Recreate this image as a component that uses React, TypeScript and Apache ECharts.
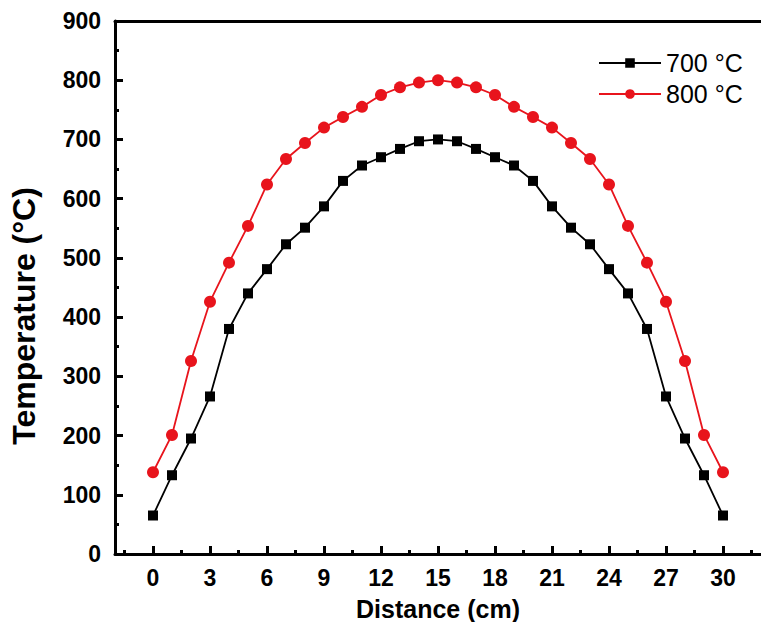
import React, { useEffect, useRef } from "react";
import * as echarts from "echarts";

const distance = [0, 1, 2, 3, 4, 5, 6, 7, 8, 9, 10, 11, 12, 13, 14, 15, 16, 17, 18, 19, 20, 21, 22, 23, 24, 25, 26, 27, 28, 29, 30];
const temp700 = [65, 133, 195, 266, 380, 440, 481, 523, 551, 587, 630, 656, 670, 684, 697, 700, 697, 684, 670, 656, 630, 587, 551, 523, 481, 440, 380, 266, 195, 133, 65];
const temp800 = [138, 201, 326, 426, 492, 554, 624, 667, 694, 720, 738, 755, 775, 788, 796, 800, 796, 788, 775, 755, 738, 720, 694, 667, 624, 554, 492, 426, 326, 201, 138];
const seriesNames = ["700 °C", "800 °C"];
const xMajorTicks = [0, 3, 6, 9, 12, 15, 18, 21, 24, 27, 30];
const xMinorTicks = [-1.5, 1.5, 4.5, 7.5, 10.5, 13.5, 16.5, 19.5, 22.5, 25.5, 28.5, 31.5];

const FONT = "Liberation Sans, Arial, sans-serif";

export default function App() {
  const ref = useRef<HTMLDivElement>(null);
  useEffect(() => {
    if (!ref.current) return;
    const chart = echarts.init(ref.current, undefined, { renderer: "svg" });
    const pair = (ys: number[]) => distance.map((x, i) => [x, ys[i]]);
    chart.setOption({
      animation: false,
      backgroundColor: "#ffffff",
      grid: { left: 115, top: 21, right: 0, bottom: 68, containLabel: false, outerBoundsMode: "none" },
      legend: {
        orient: "vertical",
        left: 593,
        top: 44,
        itemWidth: 62,
        itemHeight: 12,
        itemGap: 3,
        textStyle: { fontFamily: FONT, fontSize: 25, color: "#000", lineHeight: 28 },
        data: seriesNames,
      },
      xAxis: [
        {
          type: "value",
          min: -2,
          max: 32,
          position: "bottom",
          name: "Distance (cm)",
          nameLocation: "middle",
          nameGap: 42,
          nameTextStyle: { fontFamily: FONT, fontSize: 25, fontWeight: "bold", color: "#000" },
          axisLine: { show: true, onZero: false, lineStyle: { color: "#000", width: 3 } },
          axisTick: { show: true, inside: true, length: 8, lineStyle: { color: "#000", width: 3 }, customValues: xMajorTicks },
          axisLabel: { show: true, margin: 12, fontFamily: FONT, fontSize: 23, fontWeight: "bold", color: "#000", customValues: xMajorTicks },
          splitLine: { show: false },
        },
        {
          type: "value",
          min: -2,
          max: 32,
          position: "bottom",
          axisLine: { show: false, onZero: false },
          axisTick: { show: true, inside: true, length: 4, lineStyle: { color: "#000", width: 3 }, customValues: xMinorTicks },
          axisLabel: { show: false },
          splitLine: { show: false },
        },
        {
          type: "value",
          min: -2,
          max: 32,
          position: "top",
          axisLine: { show: true, onZero: false, lineStyle: { color: "#000", width: 3 } },
          axisTick: { show: false },
          axisLabel: { show: false },
          splitLine: { show: false },
        },
      ],
      yAxis: {
        type: "value",
        min: 0,
        max: 900,
        interval: 100,
        position: "left",
        axisLine: { show: true, onZero: false, lineStyle: { color: "#000", width: 3 } },
        axisTick: { show: true, inside: true, length: 8, lineStyle: { color: "#000", width: 3 } },
        minorTick: { show: true, splitNumber: 2, length: 4, lineStyle: { color: "#000", width: 3 } },
        axisLabel: { margin: 14, fontFamily: FONT, fontSize: 23, fontWeight: "bold", color: "#000" },
        splitLine: { show: false },
        minorSplitLine: { show: false },
      },
      graphic: [
        {
          type: "text",
          x: 24,
          y: 316,
          rotation: Math.PI / 2,
          style: {
            text: "Temperature (°C)",
            font: `bold 32px ${FONT}`,
            fill: "#000",
            align: "center",
            verticalAlign: "middle",
          },
        },
      ],
      series: [
        {
          name: seriesNames[0],
          type: "line",
          xAxisIndex: 0,
          data: pair(temp700),
          symbol: "rect",
          symbolSize: 10,
          color: "#000",
          itemStyle: { color: "#000" },
          lineStyle: { color: "#000", width: 1.8 },
          z: 3,
        },
        {
          name: seriesNames[1],
          type: "line",
          xAxisIndex: 0,
          data: pair(temp800),
          symbol: "circle",
          symbolSize: 12,
          color: "#e8141c",
          itemStyle: { color: "#e8141c" },
          lineStyle: { color: "#e8141c", width: 1.8 },
          z: 2,
        },
      ],
    });
    return () => chart.dispose();
  }, []);
  return <div ref={ref} style={{ width: 761, height: 622, position: "absolute", left: 0, top: 0 }} />;
}
